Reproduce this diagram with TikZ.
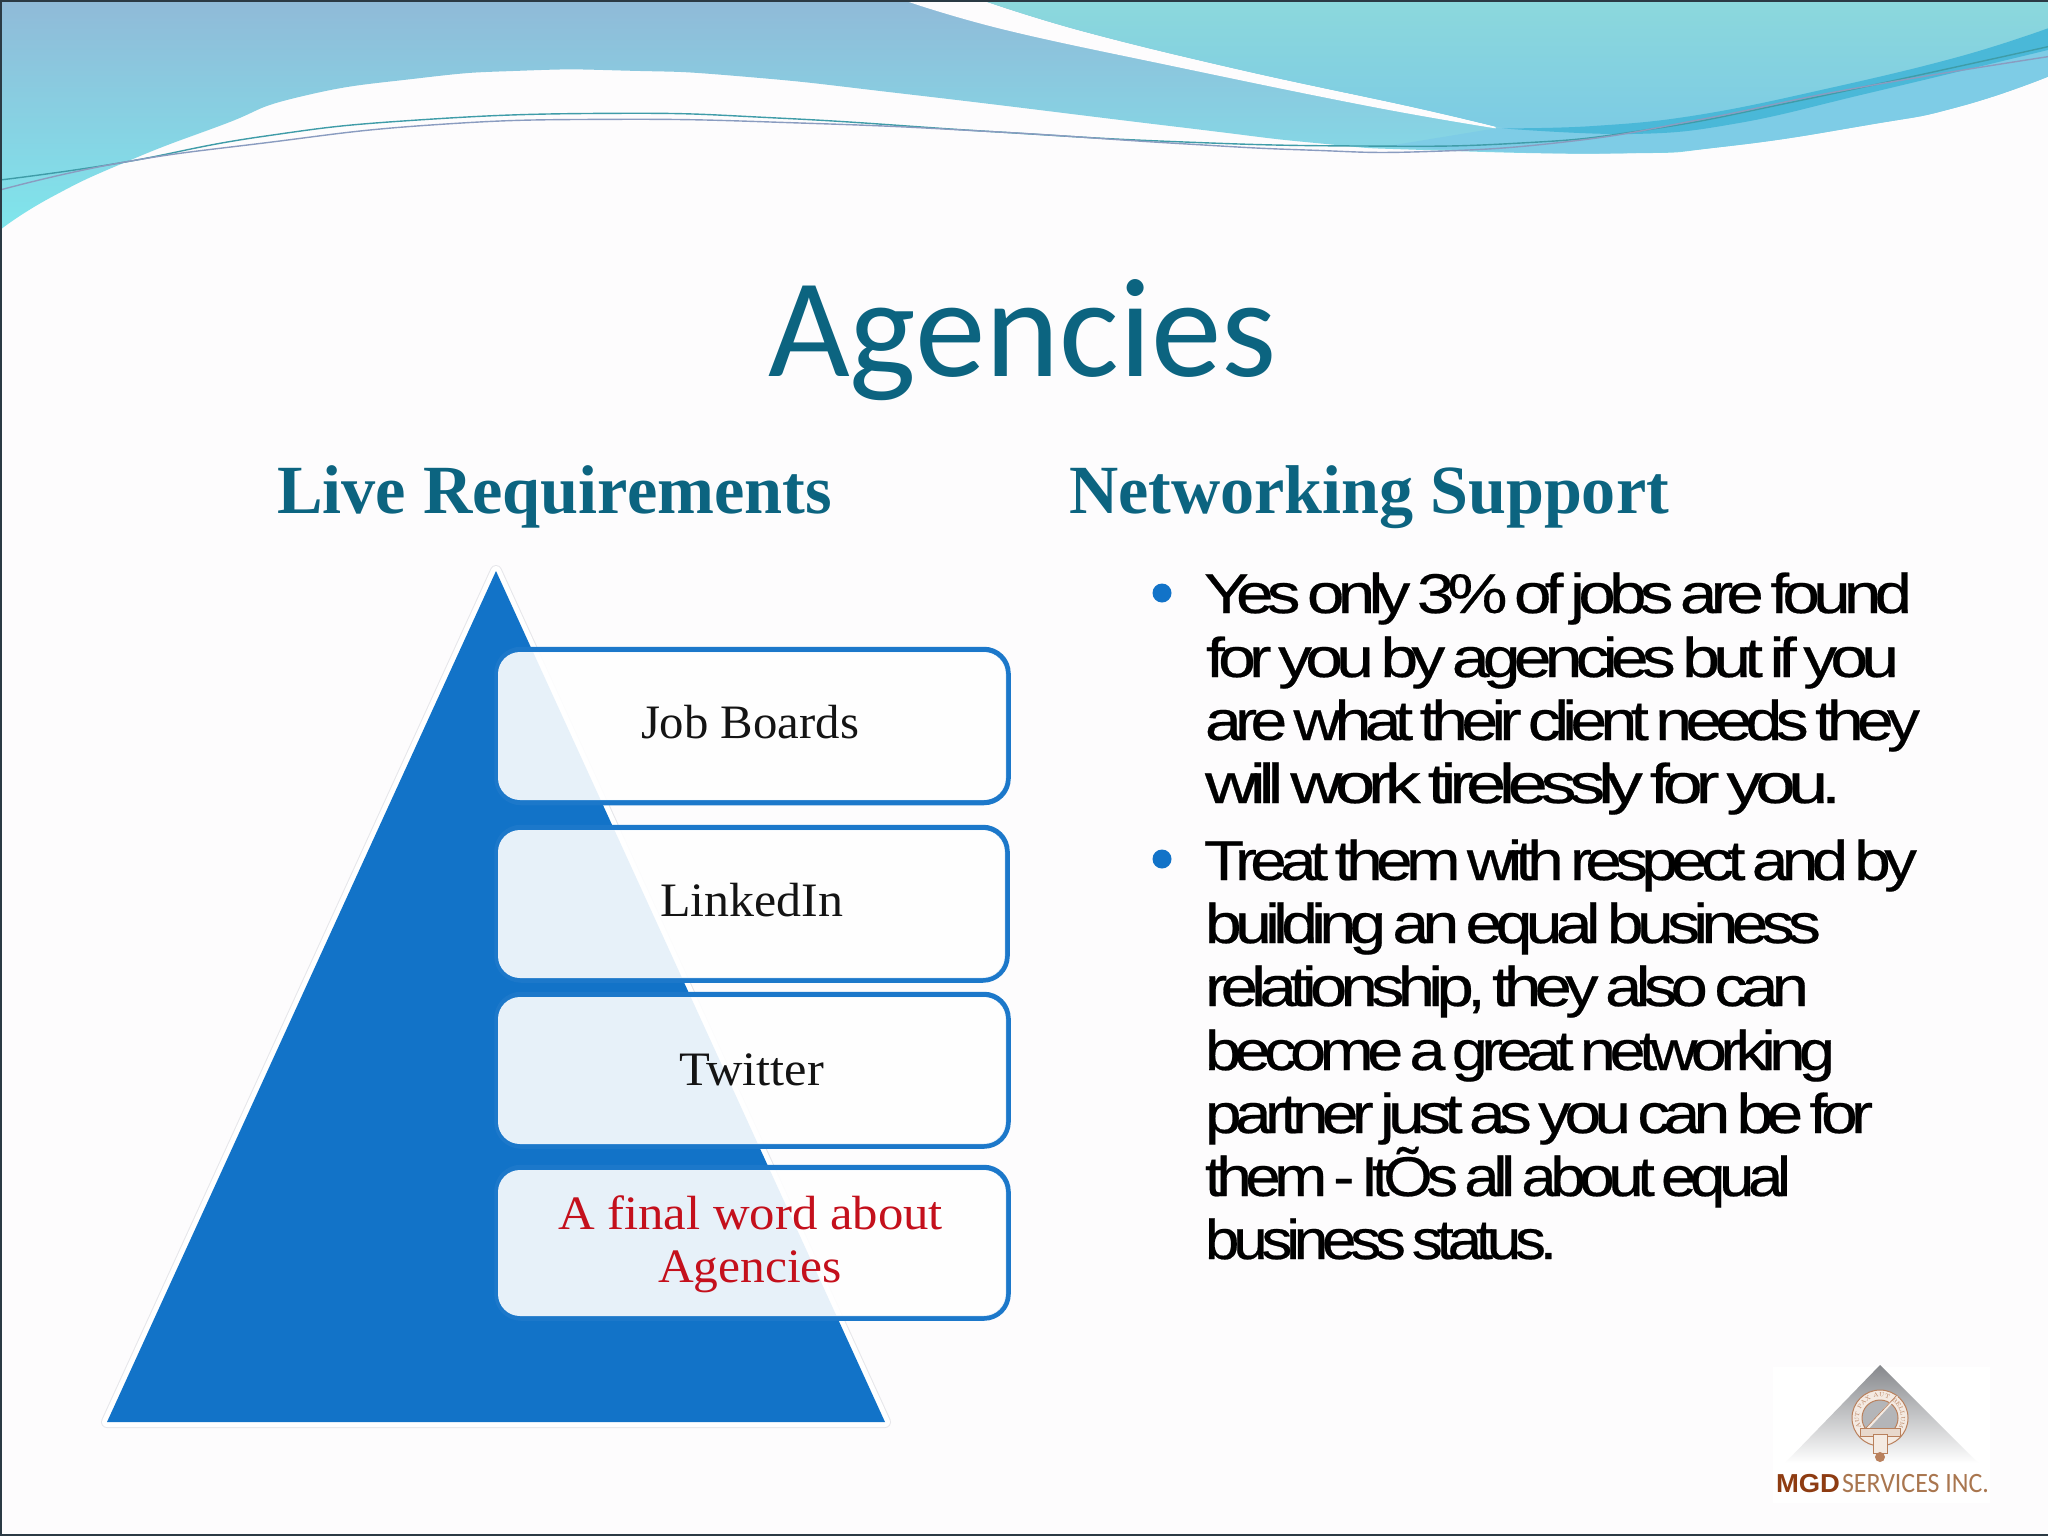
\documentclass[tikz,border=0pt]{standalone}
\usepackage{fontspec}
\usepackage{graphicx}
\usetikzlibrary{decorations.text}
\newfontfamily\titlef{Carlito}
\newfontfamily\headf[BoldFont={Liberation Serif Bold}]{Liberation Serif}
\newfontfamily\boxf{Liberation Serif}
\newfontfamily\bodyf[LetterSpace=-10,WordSpace=0.55,FakeBold=0.4]{Liberation Sans}
\newfontfamily\logob{Liberation Sans}
\newfontfamily\logof{Carlito}
\newcommand{\fitw}[2]{\resizebox{#1pt}{\height}{#2}}
\definecolor{pagebg}{HTML}{FDFCFD}
\definecolor{teal}{HTML}{0C6480}
\definecolor{pyr}{HTML}{1273C8}
\definecolor{pyrline}{HTML}{1C78CA}
\definecolor{redt}{HTML}{C4101C}
\definecolor{crest}{HTML}{B9805C}
\definecolor{mgd}{HTML}{8E3C12}
\definecolor{svc}{HTML}{A9764F}
\definecolor{waveA}{HTML}{90BAD8}
\definecolor{waveB}{HTML}{84CDE2}
\definecolor{waveC}{HTML}{7FE6EC}
\definecolor{waveD}{HTML}{7ECCE6}
\definecolor{waveE}{HTML}{8CD8DC}
\definecolor{waveF}{HTML}{7CCBE4}
\definecolor{waveG}{HTML}{4AB8D8}
\definecolor{wireA}{HTML}{3F9CA8}
\definecolor{wireB}{HTML}{8A9CC0}
\definecolor{framec}{HTML}{2B3A44}
\definecolor{logotop}{HTML}{86888C}
\definecolor{cream}{HTML}{F4EAE2}
\definecolor{creamb}{HTML}{E8D8CC}
\definecolor{crestin}{HTML}{B4B5B8}
\definecolor{halo}{HTML}{E6E6EA}
\tikzset{
  txt/.style={anchor=base west,inner sep=0pt,outer sep=0pt},
  titletxt/.style={txt,text=teal,font={\titlef\fontsize{141}{141}\selectfont}},
  headtxt/.style={txt,text=teal,font={\headf\bfseries\fontsize{69}{69}\selectfont}},
  bodytxt/.style={txt,text=black,font={\bodyf\fontsize{56}{56}\selectfont}},
  boxtxt/.style={txt,text=black!92,font={\boxf\fontsize{48}{48}\selectfont}},
  redtxt/.style={boxtxt,text=redt},
  boxline/.style={draw=pyrline,line width=5.5pt,rounded corners=24pt},
  boxfill/.style={fill=white,fill opacity=0.9,rounded corners=22pt},
  bulletdot/.style={fill=pyr},
  wire/.style={line width=1.4pt}
}
\begin{document}
\begin{tikzpicture}[x=1pt,y=-1pt]
\useasboundingbox (0,0) rectangle (2048,1536);
\fill[pagebg] (0,0) rectangle (2048,1536);

% header waves, in zoom coordinates
\begin{scope}[x=1.30612pt,y=-0.33333pt]
\shade[top color=waveA,middle color=waveB,bottom color=waveC]
  (0,0) -- (1568,0) -- (1568,230)
  -- plot[smooth,tension=0.9] coordinates {(1568,230)(1500,320)(1430,375)(1320,440)(1240,460)(1090,450)(1010,430)(900,380)(700,285)(570,230)(480,212)(400,212)(320,235)(230,290)(170,375)(100,480)(40,590)(0,690)}
  -- cycle;
\fill[waveD]
  (1145,385) -- (1568,90) -- (1568,230)
  -- plot[smooth,tension=0.9] coordinates {(1568,230)(1500,320)(1430,375)(1320,440)(1240,460)(1150,455)}
  -- (1060,440) -- cycle;
\fill[pagebg] (695,0)
  -- plot[smooth,tension=0.7] coordinates {(695,5)(770,90)(900,200)(1050,320)(1145,385)}
  -- plot[smooth,tension=0.7] coordinates {(1145,380)(1080,320)(950,210)(830,95)(755,5)}
  -- (755,0) -- cycle;
\shade[top color=waveE,bottom color=waveF]
  (755,0) -- plot[smooth,tension=0.7] coordinates {(755,5)(830,95)(950,210)(1080,320)(1145,380)}
  -- (1240,395) -- (1330,345) -- (1430,260) -- (1568,90) -- (1568,0) -- cycle;
\fill[waveG] (1150,385)
  -- plot[smooth,tension=0.7] coordinates {(1150,385)(1220,378)(1300,345)(1400,265)(1500,170)(1568,85)}
  -- (1568,150)
  -- plot[smooth,tension=0.7] coordinates {(1568,150)(1430,280)(1330,370)(1250,402)(1150,385)}
  -- cycle;
\draw[wire,draw=wireA] plot[smooth,tension=0.8] coordinates {(0,540)(90,490)(200,410)(320,360)(470,340)(600,355)(760,395)(900,425)(1040,438)(1160,430)(1260,390)(1380,300)(1568,140)};
\draw[wire,draw=wireB] plot[smooth,tension=0.8] coordinates {(0,570)(90,490)(200,430)(330,375)(470,358)(620,370)(760,395)(900,430)(1000,450)(1090,455)(1200,425)(1300,360)(1420,265)(1568,170)};
\end{scope}

% frame
\draw[line width=2.5pt,draw=framec] (2048,1) -- (1,1) -- (1,1535) -- (2048,1535);

% title and headings
\node[titletxt] (title) at (768,376) {\fitw{509}{Agencies}};
\node[headtxt] (headl) at (277,513) {\fitw{555}{Live Requirements}};
\node[headtxt] (headr) at (1069,513) {\fitw{600}{Networking Support}};

% pyramid
\draw[draw=halo,line width=12pt,line join=round] (496,571) -- (107,1422) -- (885,1422) -- cycle;
\draw[draw=white,line width=10pt,line join=round] (496,571) -- (107,1422) -- (885,1422) -- cycle;
\fill[pyr] (496,571) -- (107,1422) -- (885,1422) -- cycle;

% list boxes
\draw[boxline] (497,649.5) rectangle (1008,802.5);
\fill[boxfill] (498,652) rectangle (1006,800);
\draw[boxline] (497,827.5) rectangle (1007,980);
\fill[boxfill] (498,830) rectangle (1005,978);
\draw[boxline] (497,994.5) rectangle (1008,1146);
\fill[boxfill] (498,997) rectangle (1006,1144);
\draw[boxline] (497,1167.5) rectangle (1008,1318);
\fill[boxfill] (498,1170) rectangle (1006,1316);

\node[boxtxt] (b1) at (641,738) {\fitw{218}{Job Boards}};
\node[boxtxt] (b2) at (660,916) {\fitw{183}{LinkedIn}};
\node[boxtxt] (b3) at (679,1085) {\fitw{145}{Twitter}};
\node[redtxt] (b4a) at (558,1229) {\fitw{385}{A final word about}};
\node[redtxt] (b4b) at (658,1282) {\fitw{184}{Agencies}};

% bullets
\fill[bulletdot] (1162,593) circle[radius=9.5];
\fill[bulletdot] (1162,859) circle[radius=9.5];

% body
\node[bodytxt] (l1) at (1204,613) {\fitw{708}{Yes only 3\% of jobs are found}};
\node[bodytxt] (l2) at (1206,677) {\fitw{693}{for you by agencies but if you}};
\node[bodytxt] (l3) at (1205,740) {\fitw{715}{are what their client needs they}};
\node[bodytxt] (l4) at (1205,803) {\fitw{636}{will work tirelessly for you.}};
\node[bodytxt] (l5) at (1204,880) {\fitw{713}{Treat them with respect and by}};
\node[bodytxt] (l6) at (1205,943) {\fitw{616}{building an equal business}};
\node[bodytxt] (l7) at (1205,1006) {\fitw{604}{relationship, they also can}};
\node[bodytxt] (l8) at (1205,1070) {\fitw{630}{become a great networking}};
\node[bodytxt] (l9) at (1205,1133) {\fitw{668}{partner just as you can be for}};
\node[bodytxt] (l10) at (1205,1196) {\fitw{586}{them - ItÕs all about equal}};
\node[bodytxt] (l11) at (1205,1259) {\fitw{352}{business status.}};

% logo
\fill[white] (1773,1367) rectangle (1990,1503);
\shade[top color=logotop,bottom color=white] (1880,1365) -- (1978,1463) -- (1785,1463) -- cycle;
\fill[cream,draw=crest,line width=1pt] (1880,1418) circle[radius=28];
\fill[crestin,draw=crest,line width=1pt] (1880,1418) circle[radius=18];
\draw[line width=2.5pt,draw=cream] (1866,1430) -- (1897,1396);
\draw[line width=0.6pt,draw=crest] (1864,1430) -- (1897,1395);
\fill[creamb,draw=crest,line width=0.8pt] (1860,1428) rectangle (1900,1436);
\fill[cream,draw=crest,line width=1pt] (1873,1434) rectangle (1887,1453);
\fill[crest] (1880,1457) circle[radius=5];
\begin{scope}[shift={(1880,1418)},x=1pt,y=1pt]
\path[decorate,decoration={text along path,text align=center,
  text={|\fontsize{6}{6}\selectfont\color{crest}|AUT PAX AUT BELLUM}}]
  (215:21) arc[start angle=215,end angle=-35,radius=21];
\end{scope}
\node[txt,text=mgd,font={\logob\bfseries\fontsize{26}{26}\selectfont}] (mgdb) at (1776,1492) {\fitw{64}{MGD}};
\node[txt,text=svc,font={\logof\fontsize{28}{28}\selectfont}] (mgds) at (1842,1492) {\fitw{147}{SERVICES INC.}};
\end{tikzpicture}
\end{document}
